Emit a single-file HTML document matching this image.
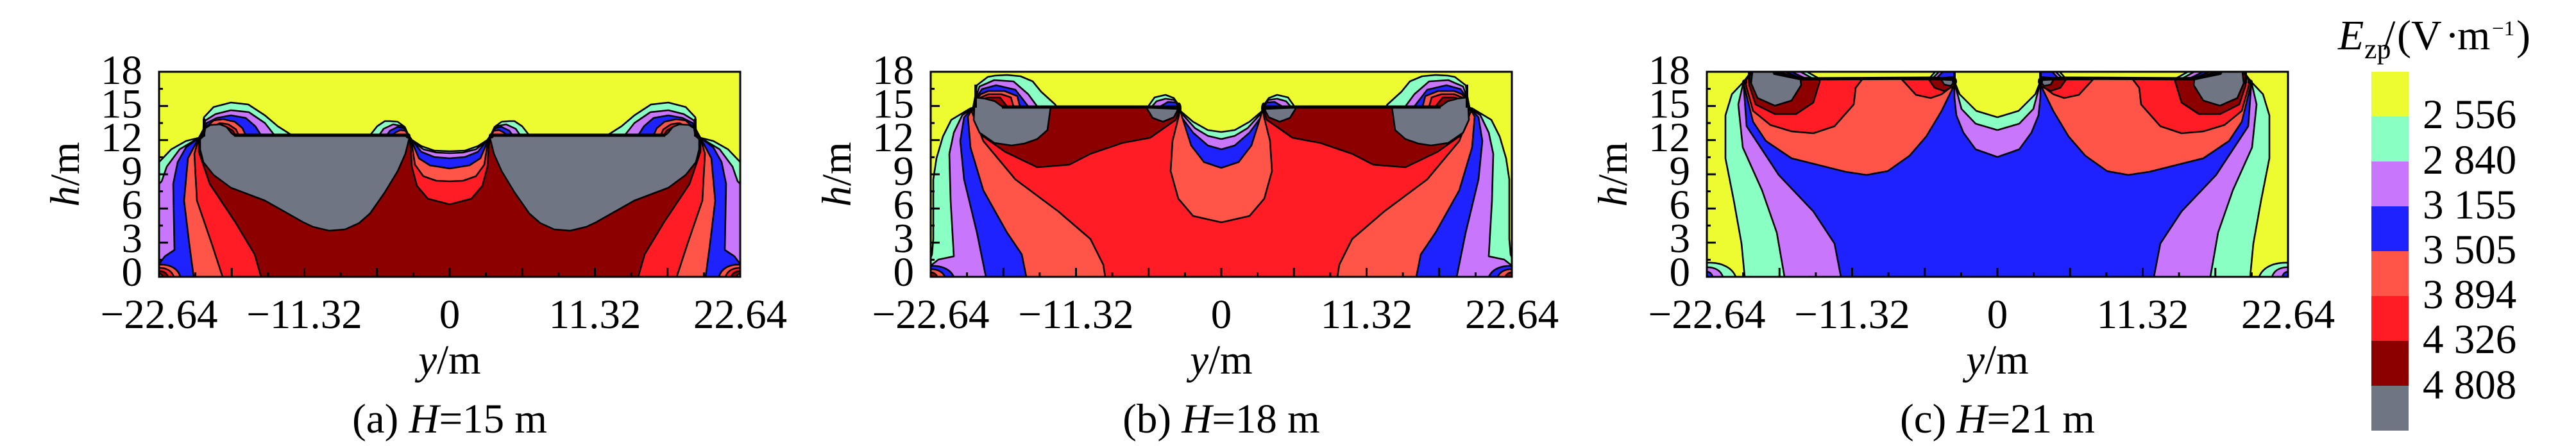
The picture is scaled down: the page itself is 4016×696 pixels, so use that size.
<!DOCTYPE html>
<html><head><meta charset="utf-8"><style>
html,body{margin:0;padding:0;background:#fff;}
body{width:4016px;height:696px;overflow:hidden;}
svg{display:block;}
text{font-family:"Liberation Serif","Times New Roman",serif;fill:#000;}
</style></head><body>
<svg width="4016" height="696" viewBox="0 0 4016 696" xmlns="http://www.w3.org/2000/svg">
<defs>
<clipPath id="clip" clipPathUnits="userSpaceOnUse"><rect x="0" y="0" width="906" height="320"/></clipPath>
<g id="ticks" stroke="#000" stroke-width="3" fill="none">
<path d="M113.25,320v-14M226.5,320v-14M339.75,320v-14M453,320v-14M566.25,320v-14M679.5,320v-14M792.75,320v-14"/>
<path d="M56.6,320v-7M169.9,320v-7M283.1,320v-7M396.4,320v-7M509.6,320v-7M622.9,320v-7M736.1,320v-7M849.4,320v-7"/>
<path d="M0,53.33h14M0,106.67h14M0,160h14M0,213.33h14M0,266.67h14"/>
<path d="M0,26.67h6M0,80h6M0,133.33h6M0,186.67h6M0,240h6M0,293.33h6"/>
<rect x="0" y="0" width="906" height="320"/>
</g>
<g id="labels" font-size="65">
<g text-anchor="end">
<text x="-26" y="19">18</text>
<text x="-26" y="71.5">15</text>
<text x="-26" y="124">12</text>
<text x="-26" y="176.5">9</text>
<text x="-26" y="229">6</text>
<text x="-26" y="281.5">3</text>
<text x="-26" y="334">0</text>
</g>
<g text-anchor="middle">
<text x="0" y="400">−22.64</text>
<text x="226.5" y="400">−11.32</text>
<text x="453" y="400">0</text>
<text x="679.5" y="400">11.32</text>
<text x="906" y="400">22.64</text>
<text x="453" y="471"><tspan font-style="italic">y</tspan>/m</text>
<text transform="translate(-125,160) rotate(-90)" x="0" y="0"><tspan font-style="italic">h</tspan>/m</text>
</g>
</g>
</defs>

<!-- Panel (a) -->
<g transform="translate(248,112)">
<g clip-path="url(#clip)">
<rect width="906" height="320" fill="#ECFC30"/>
<g id="La" stroke="#000" stroke-width="2.6" stroke-linejoin="round">
<path fill="#8AFFC4" d="M453,124 L429,123 409,116 392,105 388,97 383,86 372,78 360,77 352,77 340,85 329,99 L207,99 185,85 165,68 139,51 112,48 85,55 70,71 69,90 62,103 42,108 19,121 0,141 L0,320 453,320"/>
<path fill="#C876FC" d="M453,127 L432,126 412,121 395,108 388,97 380,85 365,82 350,89 343,99 L180,99 165,80 140,63 112,60 88,66 72,76 69,92 62,103 32,121 12,148 4,171 0,175 L0,320 453,320"/>
<path fill="#1E22FF" d="M453,135 L429,133 409,125 397,110 388,98 382,88 372,86 360,92 355,99 L159,99 150,85 135,72 112,68 90,72 74,80 70,94 62,103 42,118 29,141 22,175 24,278 9,288 0,300 L0,320 453,320"/>
<path fill="#FF5548" d="M453,151 L422,146 405,135 395,111 388,98 384,92 376,91 368,95 364,99 L135,99 130,88 118,78 100,74 85,76 76,84 70,96 62,103 45,135 39,201 47,268 54,320 L453,320"/>
<path fill="#FF5548" d="M0,301 C18,300 30,308 33,320 L0,320"/>
<path fill="#FF1C24" d="M453,171 L432,170 412,163 399,145 394,113 390,103 386,99 L124,99 120,90 108,82 95,80 82,86 72,97 62,103 55,128 59,201 82,268 99,320 L453,320"/>
<path fill="#FF1C24" d="M0,306 C12,306 20,311 23,320 L0,320"/>
<path fill="#8C0000" d="M453,207 L419,198 402,178 394,148 392,115 390,103 386,99 L119,99 115,92 105,86 92,85 82,90 72,98 62,103 62,125 79,175 119,235 149,285 159,320 L453,320"/>
<path fill="#8C0000" d="M0,311 C7,311 12,314 14,320 L0,320"/>
<path fill="#707584" d="M72,88 L80,83 95,82 105,86 113,96 117,99 L384,99 390,104 384,128 372,155 352,188 329,221 312,236 290,246 265,248 240,242 225,235 165,201 112,181 85,161 69,141 64,121 64,105 70,100 Z"/>
<path fill="#707584" d="M0,315 C3,315 5,317 6,320 L0,320"/>
<path fill="none" stroke-width="5" d="M117,99 L387,99"/>
<path fill="none" stroke-width="4" d="M70,73 L70,101"/>
<circle cx="388" cy="100" r="4" fill="#000" stroke="none"/>
</g>
<use href="#La" transform="translate(906,0) scale(-1,1)"/>
</g>
<use href="#ticks"/>
<use href="#labels"/>
<text x="453" y="563" font-size="65" text-anchor="middle">(a) <tspan font-style="italic">H</tspan>=15 m</text>
</g>

<!-- Panel (b) -->
<g transform="translate(1451,112)">
<g clip-path="url(#clip)">
<rect width="906" height="320" fill="#ECFC30"/>
<g id="Lb" stroke="#000" stroke-width="2.6" stroke-linejoin="round">
<path fill="#8AFFC4" d="M453,94 L432,91 409,78 389,61 386,51 379,41 366,36 349,40 339,54 L196,54 194,51 172,31 159,15 140,7 119,5 100,6 89,8 72,21 69,40 66,56 62,57 32,75 19,101 9,135 4,168 4,261 2,285 0,290 L0,320 453,320"/>
<path fill="#C876FC" d="M453,105 L432,100 412,88 392,66 386,53 380,44 366,42 352,46 345,54 L166,54 152,35 129,15 99,13 76,23 70,40 66,56 49,68 36,95 29,128 31,201 36,288 12,293 2,301 0,305 L0,320 453,320"/>
<path fill="#1E22FF" d="M453,121 L432,115 409,95 392,72 387,55 382,48 370,47 358,54 L152,54 132,28 102,21 80,27 71,40 66,56 52,71 46,108 52,168 72,251 86,320 L453,320"/>
<path fill="#1E22FF" d="M0,303 C15,302 30,307 36,320 L0,320"/>
<path fill="#FF5548" d="M453,150 L426,141 406,115 392,71 388,55 L139,54 135,38 115,30 90,30 78,35 70,45 66,56 58,70 62,118 82,185 119,251 142,285 149,320 L453,320"/>
<path fill="#FF5548" d="M0,308 C10,308 19,312 22,320 L0,320"/>
<path fill="#FF1C24" d="M453,235 L409,225 386,198 374,155 377,108 387,68 388,55 L129,54 125,40 110,35 90,35 78,40 70,48 66,56 64,62 82,108 132,168 199,218 249,261 269,301 272,320 L453,320"/>
<path fill="#8C0000" d="M0,313 C5,313 9,316 10,320 L0,320"/>
<path fill="#8C0000" d="M388,58 L382,75 342,103 299,111 249,128 216,145 166,149 116,125 82,101 66,58 69,50 78,44 90,40 108,40 119,54 L388,54 Z"/>
<path fill="#707584" d="M70,40 L85,42 100,46 111,54 L187,55 182,91 166,105 146,112 126,115 99,111 76,95 67,75 68,55 Z"/>
<path fill="#707584" d="M336,56 L346,72 362,78 379,71 386,58 Z"/>
<path fill="none" stroke-width="5" d="M111,55 L389,55"/>
<path fill="none" stroke-width="4" d="M70,20 L70,56"/>
<ellipse cx="387" cy="57" rx="4" ry="9" fill="#000" stroke="none"/>
</g>
<use href="#Lb" transform="translate(906,0) scale(-1,1)"/>
</g>
<use href="#ticks"/>
<use href="#labels"/>
<text x="453" y="563" font-size="65" text-anchor="middle">(b) <tspan font-style="italic">H</tspan>=18 m</text>
</g>

<!-- Panel (c) -->
<g transform="translate(2661,112)">
<g clip-path="url(#clip)">
<rect width="906" height="320" fill="#ECFC30"/>
<g id="Lc" stroke="#000" stroke-width="2.6" stroke-linejoin="round">
<path fill="#8AFFC4" d="M453,71 L420,61 394,35 386,15 386,0 356,0 347,10 L176,11 156,0 L69,0 66,10 57,16 39,35 29,68 29,135 42,201 54,268 59,320 L453,320"/>
<path fill="#8AFFC4" d="M0,298 C25,297 40,307 45,320 L0,320"/>
<path fill="#C876FC" d="M453,91 L419,81 397,58 389,28 386,15 386,0 362,0 352,10 L166,11 146,0 L69,0 66,10 57,16 49,51 56,118 86,185 109,251 121,320 L453,320"/>
<path fill="#C876FC" d="M0,305 C14,305 22,311 25,320 L0,320"/>
<path fill="#1E22FF" d="M453,133 L419,121 400,95 389,68 386,40 386,15 386,0 368,0 358,10 L155,11 132,0 L69,0 64,10 57,16 62,85 112,161 166,218 199,268 209,320 L453,320"/>
<path fill="#1E22FF" d="M0,312 C5,312 8,316 9,320 L0,320"/>
<path fill="#FF5548" d="M386,20 L366,61 342,101 316,131 282,155 249,161 216,156 172,145 132,135 92,108 72,78 59,25 57,16 63,8 69,0 L122,0 147,10 L386,12 Z"/>
<path fill="#FF1C24" d="M242,12 L232,25 229,51 199,85 166,96 132,93 99,83 72,61 62,25 60,16 65,6 69,0 L112,0 140,9 L242,12 Z"/>
<path fill="#FF1C24" d="M304,12 L326,36 349,41 366,35 386,20 386,12 Z"/>
<path fill="#8C0000" d="M176,12 L176,15 166,48 139,66 106,66 76,51 66,21 66,8 69,0 L106,0 130,8 Z"/>
<path fill="#8C0000" d="M346,12 L355,25 370,30 386,22 386,12 Z"/>
<path fill="#707584" d="M71,0 L69,18 79,41 106,53 132,45 147,21 146,11 104,2 L104,0 Z"/>
<path fill="#707584" d="M364,10 L370,20 380,22 386,16 386,8 Z"/>
<path fill="none" stroke-width="5" d="M104,2 L147,11 L350,10 L387,12"/>
<path fill="none" stroke-width="4" d="M386,0 L386,18 M66,0 L66,18"/>
<ellipse cx="386" cy="15" rx="4" ry="6" fill="#000" stroke="none"/>
<ellipse cx="59" cy="16" rx="4" ry="4" fill="#000" stroke="none"/>
</g>
<use href="#Lc" transform="translate(906,0) scale(-1,1)"/>
</g>
<use href="#ticks"/>
<use href="#labels"/>
<text x="453" y="563" font-size="65" text-anchor="middle">(c) <tspan font-style="italic">H</tspan>=21 m</text>
</g>

<!-- Colorbar -->
<g>
<rect x="3697" y="112" width="58" height="71" fill="#ECFC30"/>
<rect x="3697" y="182" width="58" height="71" fill="#8AFFC4"/>
<rect x="3697" y="252" width="58" height="71" fill="#C876FC"/>
<rect x="3697" y="322" width="58" height="71" fill="#1E22FF"/>
<rect x="3697" y="392" width="58" height="71" fill="#FF5548"/>
<rect x="3697" y="462" width="58" height="71" fill="#FF1C24"/>
<rect x="3697" y="532" width="58" height="71" fill="#8C0000"/>
<rect x="3697" y="602" width="58" height="70" fill="#707584"/>
<g font-size="65">
<text x="3777" y="200">2 556</text>
<text x="3777" y="271">2 840</text>
<text x="3777" y="341">3 155</text>
<text x="3777" y="411">3 505</text>
<text x="3777" y="481">3 894</text>
<text x="3777" y="551">4 326</text>
<text x="3777" y="622">4 808</text>
</g>
<text x="3645" y="77" font-size="66" font-style="italic">E</text>
<text x="3686" y="91" font-size="44">zp</text>
<text x="3716" y="77" font-size="66">/</text>
<text x="3737" y="77" font-size="66">(V</text>
<text x="3812" y="77" font-size="66">·</text>
<text x="3831" y="77" font-size="66">m</text>
<text x="3885" y="55" font-size="33">−1</text>
<text x="3923" y="77" font-size="66">)</text>
</g>
</svg>
</body></html>
